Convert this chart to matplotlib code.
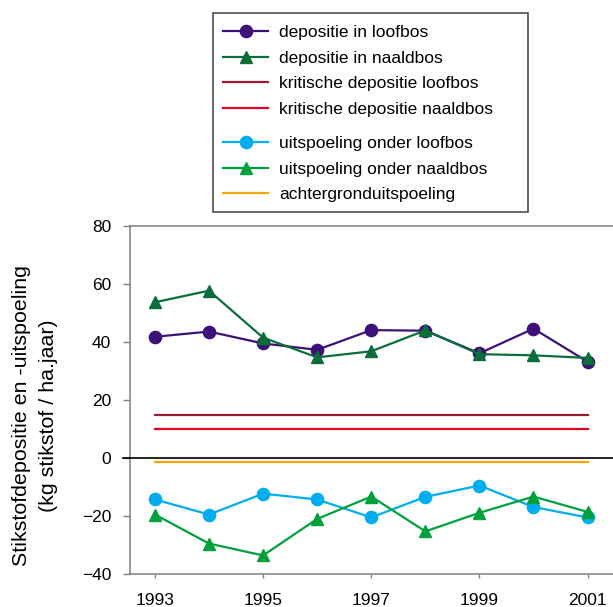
import numpy as np
import matplotlib
matplotlib.use("Agg")
import matplotlib.pyplot as plt
from matplotlib.lines import Line2D
from matplotlib.patches import Rectangle

plt.rcParams['font.family'] = ['Liberation Sans', 'DejaVu Sans']

# jaren en reeksen (kg stikstof / ha.jaar)
jaren = [1993, 1994, 1995, 1996, 1997, 1998, 1999, 2000, 2001]
depositie_loofbos = [41.8, 43.6, 39.5, 37.3, 44.1, 43.9, 36.1, 44.6, 33.2]
depositie_naaldbos = [53.7, 57.7, 41.5, 34.7, 36.8, 44.0, 35.8, 35.4, 34.5]
uitspoeling_loofbos = [-14.3, -19.5, -12.3, -14.3, -20.5, -13.4, -9.5, -16.9, -20.5]
uitspoeling_naaldbos = [-19.5, -29.5, -33.6, -21.0, -13.3, -25.3, -18.9, -13.3, -18.6]
kritisch_loofbos = 15
kritisch_naaldbos = 10
achtergrond = -1.5

xticks = [1993, 1995, 1997, 1999, 2001]
yticks = [-40, -20, 0, 20, 40, 60, 80]

c_paars = '#3d1178'
c_dgroen = '#0b6e3a'
c_drood = '#9b1b30'
c_rood = '#e4002b'
c_blauw = '#00aeef'
c_groen = '#00a03c'
c_oranje = '#f5a800'
c_grijs = '#808080'

W, H = 613, 607
fig = plt.figure(figsize=(W / 100, H / 100), dpi=100)
ax = fig.add_axes([129.5 / W, 1 - 574 / H, (W - 129.5) / W, 348 / H])

lw = 1.6
ax.plot(jaren, depositie_loofbos, color=c_paars, lw=lw, marker='o', ms=8.8, zorder=4)
ax.plot(jaren, depositie_naaldbos, color=c_dgroen, lw=lw, marker='^', ms=9, zorder=5)
ax.plot([jaren[0], jaren[-1]], [kritisch_loofbos] * 2, color=c_drood, lw=lw)
ax.plot([jaren[0], jaren[-1]], [kritisch_naaldbos] * 2, color=c_rood, lw=lw)
ax.plot(jaren, uitspoeling_loofbos, color=c_blauw, lw=lw, marker='o', ms=8.8, zorder=4)
ax.plot(jaren, uitspoeling_naaldbos, color=c_groen, lw=lw, marker='^', ms=9, zorder=5)
ax.plot([jaren[0], jaren[-1]], [achtergrond] * 2, color=c_oranje, lw=lw)

# nullijn, loopt iets links van de as door
ax.axhline(0, xmin=-0.0135, xmax=1, color='black', lw=1.2, clip_on=False, zorder=3)

ax.set_xlim(1992.53, 2001.47)
ax.set_ylim(-40, 80)
ax.set_xticks(xticks)
ax.set_yticks(yticks)
ax.tick_params(axis='y', direction='out', length=4.7, width=1, color=c_grijs,
               labelsize=12.5, pad=8.5)
ax.tick_params(axis='x', direction='out', length=3, width=1, color=c_grijs,
               labelsize=12.5, pad=11)
for s in ['left', 'top', 'bottom']:
    ax.spines[s].set_color(c_grijs)
    ax.spines[s].set_linewidth(1.1)
ax.spines['right'].set_visible(False)

fig.text(35 / W, 1 - 416 / H,
         'Stikstofdepositie en -uitspoeling\n(kg stikstof / ha.jaar)',
         rotation=90, ha='center', va='center', multialignment='center',
         fontsize=15.4, linespacing=1.5)

# legenda in twee groepen met een gezamenlijk kader
h1 = [Line2D([], [], color=c_paars, lw=lw, marker='o', ms=8.8),
      Line2D([], [], color=c_dgroen, lw=lw, marker='^', ms=9),
      Line2D([], [], color=c_drood, lw=lw),
      Line2D([], [], color=c_rood, lw=lw)]
l1 = ['depositie in loofbos', 'depositie in naaldbos',
      'kritische depositie loofbos', 'kritische depositie naaldbos']
h2 = [Line2D([], [], color=c_blauw, lw=lw, marker='o', ms=8.8),
      Line2D([], [], color=c_groen, lw=lw, marker='^', ms=9),
      Line2D([], [], color=c_oranje, lw=lw)]
l2 = ['uitspoeling onder loofbos', 'uitspoeling onder naaldbos',
      'achtergronduitspoeling']

opts = dict(loc='upper left', frameon=False, borderpad=0, borderaxespad=0,
            fontsize=12.5, handlelength=2.6, handletextpad=0.62, labelspacing=0.6)
leg1 = fig.legend(h1, l1, bbox_to_anchor=(223 / W, 1 - 25 / H), **opts)
leg2 = fig.legend(h2, l2, bbox_to_anchor=(223 / W, 1 - 136 / H), **opts)

fig.patches.append(Rectangle((213 / W, 1 - 212 / H), 315 / W, 199 / H,
                             transform=fig.transFigure, fill=False,
                             edgecolor='#404040', lw=1.1))

fig.savefig('out.png', dpi=100)
